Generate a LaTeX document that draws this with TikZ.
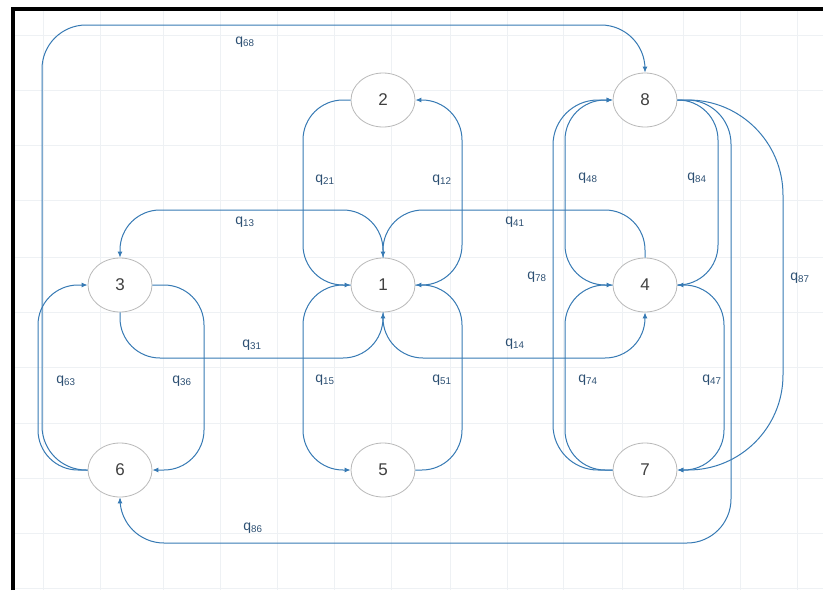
\documentclass[tikz,border=0pt]{standalone}
\usepackage{fontspec}
\setmainfont{Liberation Sans}
\usetikzlibrary{shapes.geometric,arrows.meta}
\definecolor{edgeblue}{RGB}{55,122,180}
\definecolor{lblcol}{RGB}{45,80,115}
\definecolor{nodeborder}{RGB}{185,185,185}
\definecolor{gridcol}{RGB}{238,241,244}
\begin{document}
\begin{tikzpicture}[x=1pt,y=-1pt,
  state/.style={ellipse,draw=nodeborder,fill=white,line width=0.8pt,minimum width=64pt,minimum height=54pt,inner sep=0pt,text=black!75,font=\fontsize{17}{20}\selectfont},
  edge/.style={draw=edgeblue,line width=1pt,-{Latex[length=6pt,width=5pt]}},
  lbl/.style={text=lblcol,font=\fontsize{14}{16}\selectfont,inner sep=1pt},
  gridline/.style={draw=gridcol,line width=0.8pt},
  framebar/.style={draw=black,line width=4pt}
]
\useasboundingbox (0,0) rectangle (823,590);
\fill[white] (0,0) rectangle (823,590);
% faint background grid
\foreach \gx in {43,100,163,220,277,334,391,450,507,563,622,683,740,797}
  \draw[gridline] (\gx,10) -- (\gx,590);
\foreach \gy in {35,90,145,200,257,312,367,423,478,533,588}
  \draw[gridline] (12,\gy) -- (823,\gy);
% frame
\draw[framebar] (12.5,590) -- (12.5,9) -- (823,9);

% states
\node[state] (n1) at (383,285) {1};
\node[state] (n2) at (383,100) {2};
\node[state] (n3) at (120,285) {3};
\node[state] (n4) at (645,285) {4};
\node[state] (n5) at (383,470) {5};
\node[state] (n6) at (120,470) {6};
\node[state] (n7) at (645,470) {7};
\node[state] (n8) at (645,100) {8};

% transitions
\draw[edge,rounded corners=40pt] (n1.east) -- (462,285) -- (462,100) -- (n2.east);
\draw[edge,rounded corners=40pt] (n2.west) -- (303,100) -- (303,285) -- (n1.west);
\draw[edge,rounded corners=40pt] (n1.west) -- (303,285) -- (303,470) -- (n5.west);
\draw[edge,rounded corners=40pt] (n5.east) -- (462,470) -- (462,285) -- (n1.east);
\draw[edge,rounded corners=40pt] (n1.north) -- (383,210) -- (120,210) -- (n3.north);
\draw[edge,rounded corners=40pt] (n4.north) -- (645,210) -- (383,210) -- (n1.north);
\draw[edge,rounded corners=40pt] (n3.south) -- (120,358) -- (383,358) -- (n1.south);
\draw[edge,rounded corners=40pt] (n1.south) -- (383,358) -- (645,358) -- (n4.south);
\draw[edge,rounded corners=40pt] (n3.east) -- (204,285) -- (204,470) -- (n6.east);
\draw[edge,rounded corners=40pt] (n6.west) -- (38,470) -- (38,285) -- (n3.west);
\draw[edge,rounded corners=44pt] (n6.west) -- (42,470) -- (42,25) -- (645,25) -- (n8.north);
\draw[edge,rounded corners=44pt] (n8.east) -- (731,100) -- (731,543) -- (120,543) -- (n6.south);
\draw[edge,rounded corners=40pt] (n8.east) -- (718,100) -- (718,285) -- (n4.east);
\draw[edge,rounded corners=95pt] (n8.east) -- (783,100) -- (783,470) -- (n7.east);
\draw[edge,rounded corners=40pt] (n4.east) -- (724,285) -- (724,470) -- (n7.east);
\draw[edge,rounded corners=40pt] (n4.west) -- (565,285) -- (565,100) -- (n8.west);
\draw[edge,rounded corners=40pt] (n7.west) -- (565,470) -- (565,285) -- (n4.west);
\draw[edge,rounded corners=45pt] (n7.west) -- (553,470) -- (553,100) -- (n8.west);

% labels
\node[lbl] (l68) at (245,42) {q\textsubscript{68}};
\node[lbl] (l21) at (325,180) {q\textsubscript{21}};
\node[lbl] (l12) at (442,180) {q\textsubscript{12}};
\node[lbl] (l13) at (245,222) {q\textsubscript{13}};
\node[lbl] (l41) at (515,222) {q\textsubscript{41}};
\node[lbl] (l31) at (252,345) {q\textsubscript{31}};
\node[lbl] (l14) at (515,344) {q\textsubscript{14}};
\node[lbl] (l63) at (66,381) {q\textsubscript{63}};
\node[lbl] (l36) at (182,381) {q\textsubscript{36}};
\node[lbl] (l15) at (325,380) {q\textsubscript{15}};
\node[lbl] (l51) at (442,380) {q\textsubscript{51}};
\node[lbl] (l86) at (253,528) {q\textsubscript{86}};
\node[lbl] (l48) at (588,178) {q\textsubscript{48}};
\node[lbl] (l84) at (697,178) {q\textsubscript{84}};
\node[lbl] (l78) at (537,277) {q\textsubscript{78}};
\node[lbl] (l87) at (800,278) {q\textsubscript{87}};
\node[lbl] (l74) at (588,380) {q\textsubscript{74}};
\node[lbl] (l47) at (712,380) {q\textsubscript{47}};
\end{tikzpicture}
\end{document}
